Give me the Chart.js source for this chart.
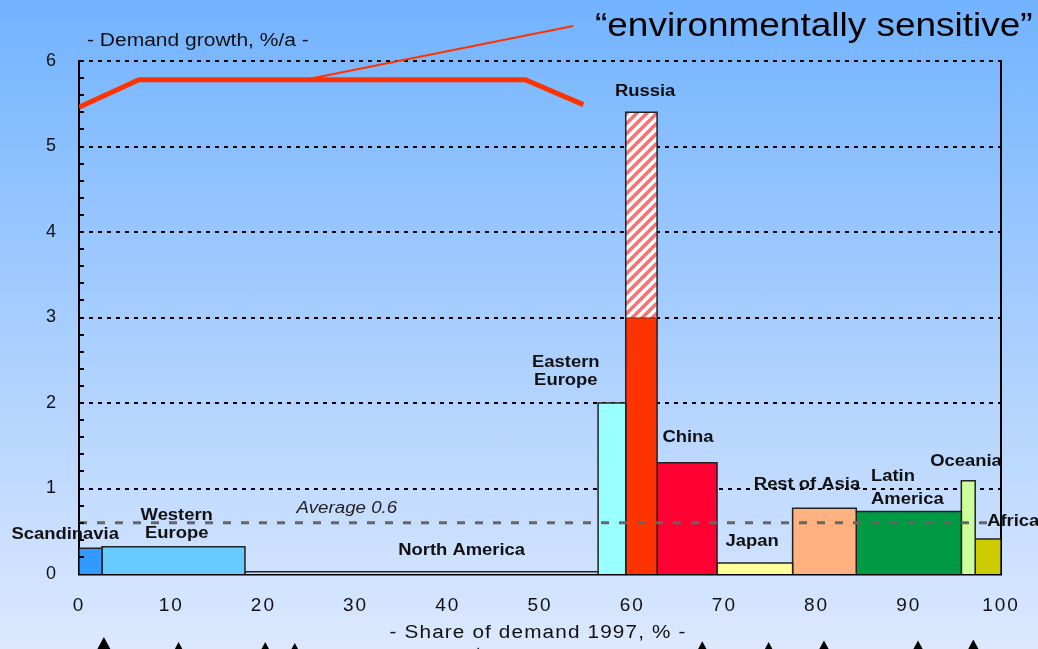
<!DOCTYPE html>
<html>
<head>
<meta charset="utf-8">
<script src="https://cdn.jsdelivr.net/npm/chart.js@4/dist/chart.umd.min.js"></script>
<style>
  html, body { margin: 0; padding: 0; }
  body {
    width: 1038px; height: 649px; overflow: hidden;
    background: linear-gradient(to bottom, #72b3ff 0%, #dce8fe 100%);
  }
  canvas { display: block; }
</style>
</head>
<body>
<canvas id="chart" width="1038" height="649"></canvas>
<script>
// Data
const regions = ['Scandinavia', 'Western Europe', 'North America', 'Eastern Europe', 'Russia',
  'China', 'Japan', 'Rest of Asia', 'Latin America', 'Oceania', 'Africa'];
const shares = [2.5, 15.5, 38.3, 3.0, 3.4, 6.5, 8.2, 6.9, 11.4, 1.5, 2.8];   // % of demand 1997
const growth = [0.30, 0.32, 0.025, 2.0, 3.0, 1.3, 0.13, 0.77, 0.73, 1.09, 0.41]; // %/a
const russiaSensitive = 5.4;
const averageGrowth = 0.6;

// "environmentally sensitive" profile + leader line
const sensitiveX = [0, 6.5, 48.4, 54.7];
const sensitiveY = [5.46, 5.78, 5.78, 5.49];
const leaderX = [24.5, 53.6];
const leaderY = [5.78, 6.41];

// pointer triangles under the axis
const markerX = [2.7, 10.8, 20.2, 23.4, 43.3, 67.6, 74.8, 80.8, 91.0, 97.0];
const markerY = [-0.83, -0.89, -0.89, -0.90, -0.95, -0.88, -0.89, -0.87, -0.87, -0.86];

// Styles
const barColors = ['#3399ff', '#66ccff', '#c9ddff', '#99ffff', '#ff3300', '#ff0033',
  '#ffff99', '#ffb27f', '#009944', '#ccff99', '#cccc00'];
const FONT = 'Liberation Sans, Arial, sans-serif';

// label layout (data coords), wrap = split name over two lines
const labelLayout = [
  { i: 0, x: -1.5, y: 0.456 },
  { i: 1, x: 10.6, y: 0.58, wrap: true, gap: 18 },
  { i: 2, x: 41.5, y: 0.27 },
  { i: 3, x: 52.8, y: 2.37, wrap: true, gap: 18 },
  { i: 4, x: 61.4, y: 5.64 },
  { i: 5, x: 66.05, y: 1.59 },
  { i: 6, x: 73.0, y: 0.374 },
  { i: 7, x: 78.96, y: 1.04 },
  { i: 8, x: 85.9, y: 1.01, wrap: true, gap: 23, align: 'left' },
  { i: 9, x: 96.2, y: 1.32 },
  { i: 10, x: 98.5, y: 0.61, align: 'left' }
];

const edges = [0];
shares.forEach(s => edges.push(edges[edges.length - 1] + s));

function rect(x0, x1, y0, y1) {
  return [{ x: x0, y: y0 }, { x: x0, y: y1 }, { x: x1, y: y1 }, { x: x1, y: y0 }];
}

function pts(xs, ys) {
  return xs.map((x, i) => ({ x: x, y: ys[i] }));
}

// red/white hatch for the sensitive part of Russia
function makeHatch() {
  const c = document.createElement('canvas');
  c.width = 10; c.height = 10;
  const p = c.getContext('2d');
  p.fillStyle = '#ffffff';
  p.fillRect(0, 0, 10, 10);
  p.strokeStyle = '#ff6f6f';
  p.lineWidth = 3.5;
  p.beginPath();
  p.moveTo(-1, 11); p.lineTo(11, -1);
  p.moveTo(-3, 3); p.lineTo(3, -3);
  p.moveTo(7, 13); p.lineTo(13, 7);
  p.stroke();
  return p.createPattern(c, 'repeat');
}

const barSets = regions.map((name, i) => ({
  label: name,
  data: rect(edges[i], edges[i + 1], 0, growth[i]),
  backgroundColor: barColors[i],
  borderColor: '#222',
  borderWidth: 1.5,
  fill: 'origin',
  order: 2
}));

const russiaTop = {
  label: 'Russia (sensitive)',
  data: rect(edges[4], edges[5], growth[4], russiaSensitive),
  backgroundColor: makeHatch(),
  borderColor: '#222',
  borderWidth: 1.5,
  fill: { value: growth[4] },
  order: 2
};

const datasets = [
  {
    label: 'Average',
    data: [{ x: 0, y: averageGrowth }, { x: 98.6, y: averageGrowth }],
    borderColor: '#666666',
    borderWidth: 3,
    borderDash: [8, 10],
    fill: false,
    order: 0
  },
  {
    label: 'Environmentally sensitive',
    data: pts(sensitiveX, sensitiveY),
    borderColor: '#ff3300',
    borderWidth: 5,
    fill: false,
    order: 0
  },
  {
    label: 'Leader',
    data: pts(leaderX, leaderY),
    borderColor: '#ff3300',
    borderWidth: 2,
    fill: false,
    clip: false,
    order: 0
  },
  russiaTop,
  ...barSets
];

function drawText(ctx, text, x, y, font, align, sx, spacing, color) {
  ctx.save();
  ctx.font = font;
  ctx.letterSpacing = spacing || '0px';
  ctx.fillStyle = color || '#111';
  ctx.textAlign = align;
  ctx.textBaseline = 'middle';
  ctx.translate(x, y);
  ctx.scale(sx, 1);
  ctx.fillText(text, 0, 0);
  ctx.restore();
}

const decorPlugin = {
  id: 'decor',
  beforeDraw(chart) {
    chart.ctx.letterSpacing = '2px';
  },
  afterDatasetsDraw(chart) {
    // minor ticks on the inside of the y axis
    const ctx = chart.ctx;
    const ys = chart.scales.y;
    const left = chart.chartArea.left;
    ctx.save();
    ctx.strokeStyle = '#000';
    ctx.lineWidth = 2;
    for (let i = 1; i < 30; i++) {
      if (i % 5 === 0) continue;
      const py = Math.round(ys.getPixelForValue(i * 0.2));
      ctx.beginPath();
      ctx.moveTo(left, py);
      ctx.lineTo(left + 5, py);
      ctx.stroke();
    }
    ctx.restore();
  },
  afterDraw(chart) {
    const ctx = chart.ctx;
    const xs = chart.scales.x;
    const ys = chart.scales.y;

    // pointer triangles below the axis title
    ctx.save();
    ctx.fillStyle = '#000';
    markerX.forEach((mx, i) => {
      const px = xs.getPixelForValue(mx);
      const py = ys.getPixelForValue(markerY[i]);
      ctx.beginPath();
      ctx.moveTo(px, py - 8);
      ctx.lineTo(px + 7, py + 5);
      ctx.lineTo(px - 7, py + 5);
      ctx.closePath();
      ctx.fill();
    });
    ctx.restore();

    labelLayout.forEach(l => {
      const name = regions[l.i];
      const lines = l.wrap ? name.split(' ') : [name];
      const gap = l.gap || 18;
      const px = xs.getPixelForValue(l.x);
      const py = ys.getPixelForValue(l.y) - (lines.length - 1) * gap / 2;
      lines.forEach((t, k) => {
        drawText(ctx, t, px, py + k * gap, 'bold 16px ' + FONT, l.align || 'center', 1.15);
      });
    });

    drawText(ctx, 'Average ' + averageGrowth, xs.getPixelForValue(23.6), ys.getPixelForValue(0.76),
      'italic 16px ' + FONT, 'left', 1.17, '0px', '#222');

    drawText(ctx, '- Demand growth, %/a -', 87, 41, '17.5px ' + FONT, 'left', 1.2);
    drawText(ctx, '- Share of demand 1997, % -', 538, 633, '18px ' + FONT, 'center', 1.15, '1px');

    ctx.save();
    ctx.font = '33px ' + FONT;
    ctx.letterSpacing = '0px';
    ctx.fillStyle = '#000';
    ctx.textAlign = 'left';
    ctx.textBaseline = 'alphabetic';
    ctx.translate(595, 36);
    ctx.scale(1.12, 1);
    ctx.fillText('\u201Cenvironmentally sensitive\u201D', 0, 0);
    ctx.restore();
  }
};

new Chart(document.getElementById('chart'), {
  type: 'line',
  data: { datasets: datasets },
  plugins: [decorPlugin],
  options: {
    responsive: false,
    animation: false,
    events: [],
    layout: { padding: { top: 61 } },
    plugins: { legend: { display: false }, tooltip: { enabled: false } },
    elements: {
      point: { radius: 0 },
      line: { tension: 0, borderJoinStyle: 'miter' }
    },
    scales: {
      x: {
        type: 'linear', min: 0, max: 100, z: 1,
        ticks: { stepSize: 10, padding: 20, color: '#111', font: { family: FONT, size: 19 } },
        grid: { display: false, drawTicks: false },
        border: { display: true, color: '#000', width: 2.5 },
        afterFit(s) { s.height = 75; }
      },
      y: {
        min: 0, max: 6, z: 1,
        ticks: { stepSize: 1, padding: 21, color: '#111', font: { family: FONT, size: 18 } },
        grid: {
          color: c => (c.tick && c.tick.value === 0) ? 'rgba(0,0,0,0)' : '#000',
          lineWidth: 2,
          drawTicks: false
        },
        border: { display: true, color: '#000', width: 2, dash: [4, 5] },
        afterFit(s) { s.width = 79; }
      },
      y2: {
        position: 'right', min: 0, max: 6,
        ticks: { display: false },
        grid: { display: false, drawTicks: false },
        border: { display: true, color: '#000', width: 2 },
        afterFit(s) { s.width = 37; }
      }
    }
  }
});
</script>
</body>
</html>
